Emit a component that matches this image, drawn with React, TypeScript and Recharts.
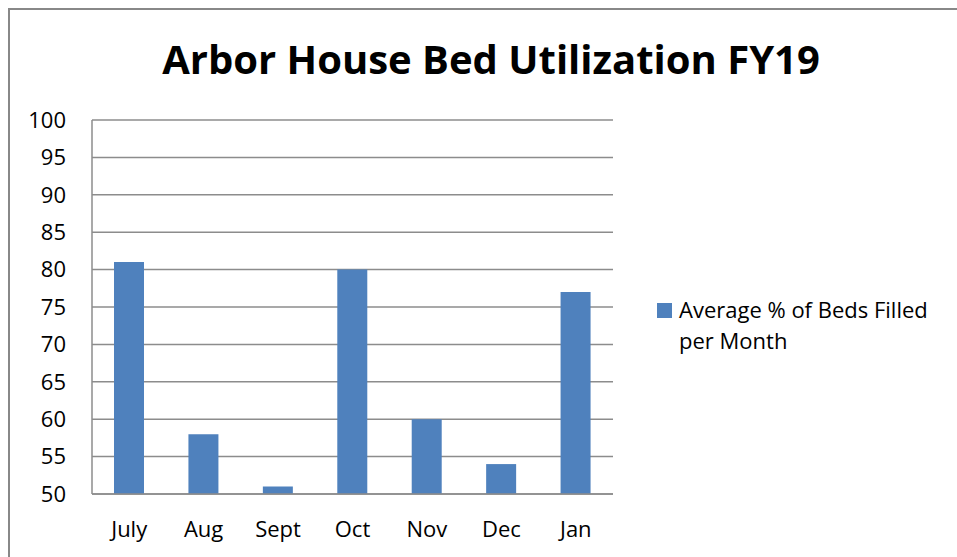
import { Bar, BarChart, CartesianGrid, XAxis, YAxis } from "recharts";

const months = ["July", "Aug", "Sept", "Oct", "Nov", "Dec", "Jan"];
const bedsFilled = [81, 58, 51, 80, 60, 54, 77];
const yTicks = [50, 55, 60, 65, 70, 75, 80, 85, 90, 95, 100];

const data = months.map((name, i) => ({ name, value: bedsFilled[i] }));

const font = "'Open Sans', 'Liberation Sans', sans-serif";

const App = () => {
  return (
    <div
      style={{
        position: "fixed",
        left: 8,
        top: 8,
        width: 949,
        height: 549,
        borderTop: "2px solid #888",
        borderLeft: "2px solid #888",
        boxSizing: "border-box",
        background: "#fff",
        overflow: "hidden",
      }}
    >
      <div
        style={{
          position: "absolute",
          top: 21,
          left: 0,
          width: 962,
          textAlign: "center",
          fontFamily: font,
          fontWeight: 700,
          fontSize: 40,
          color: "#000",
        }}
      >
        Arbor House Bed Utilization FY19
      </div>
      <div
        style={{
          position: "absolute",
          left: 647,
          top: 284,
          display: "flex",
          alignItems: "flex-start",
          fontFamily: font,
          fontSize: 22,
          color: "#000",
          lineHeight: "31px",
        }}
      >
        <div style={{ width: 15, height: 15, background: "#4F81BD", marginTop: 9, marginRight: 7 }} />
        <div style={{ width: 290 }}>
          Average % of Beds Filled
          <br />
          per Month
        </div>
      </div>
      <BarChart
        width={947}
        height={547}
        data={data}
        margin={{ top: 110, right: 344, bottom: 33, left: 0 }}
      >
        <CartesianGrid vertical={false} stroke="#8c8c8c" strokeWidth={1.5} />
        <XAxis
          dataKey="name"
          stroke="#8c8c8c"
          strokeWidth={1.5}
          tickLine={false}
          tickSize={0}
          tickMargin={27}
          tick={{ fill: "#000", fontSize: 22, fontFamily: font }}
        />
        <YAxis
          width={82}
          domain={[50, 100]}
          ticks={yTicks}
          interval={0}
          stroke="#8c8c8c"
          strokeWidth={1.5}
          tickLine={false}
          tickSize={0}
          tickMargin={26}
          tick={{ fill: "#000", fontSize: 22, fontFamily: font }}
        />
        <Bar dataKey="value" name="Average % of Beds Filled per Month" fill="#4F81BD" barSize={30} isAnimationActive={false} />
      </BarChart>
    </div>
  );
};

export default App;
